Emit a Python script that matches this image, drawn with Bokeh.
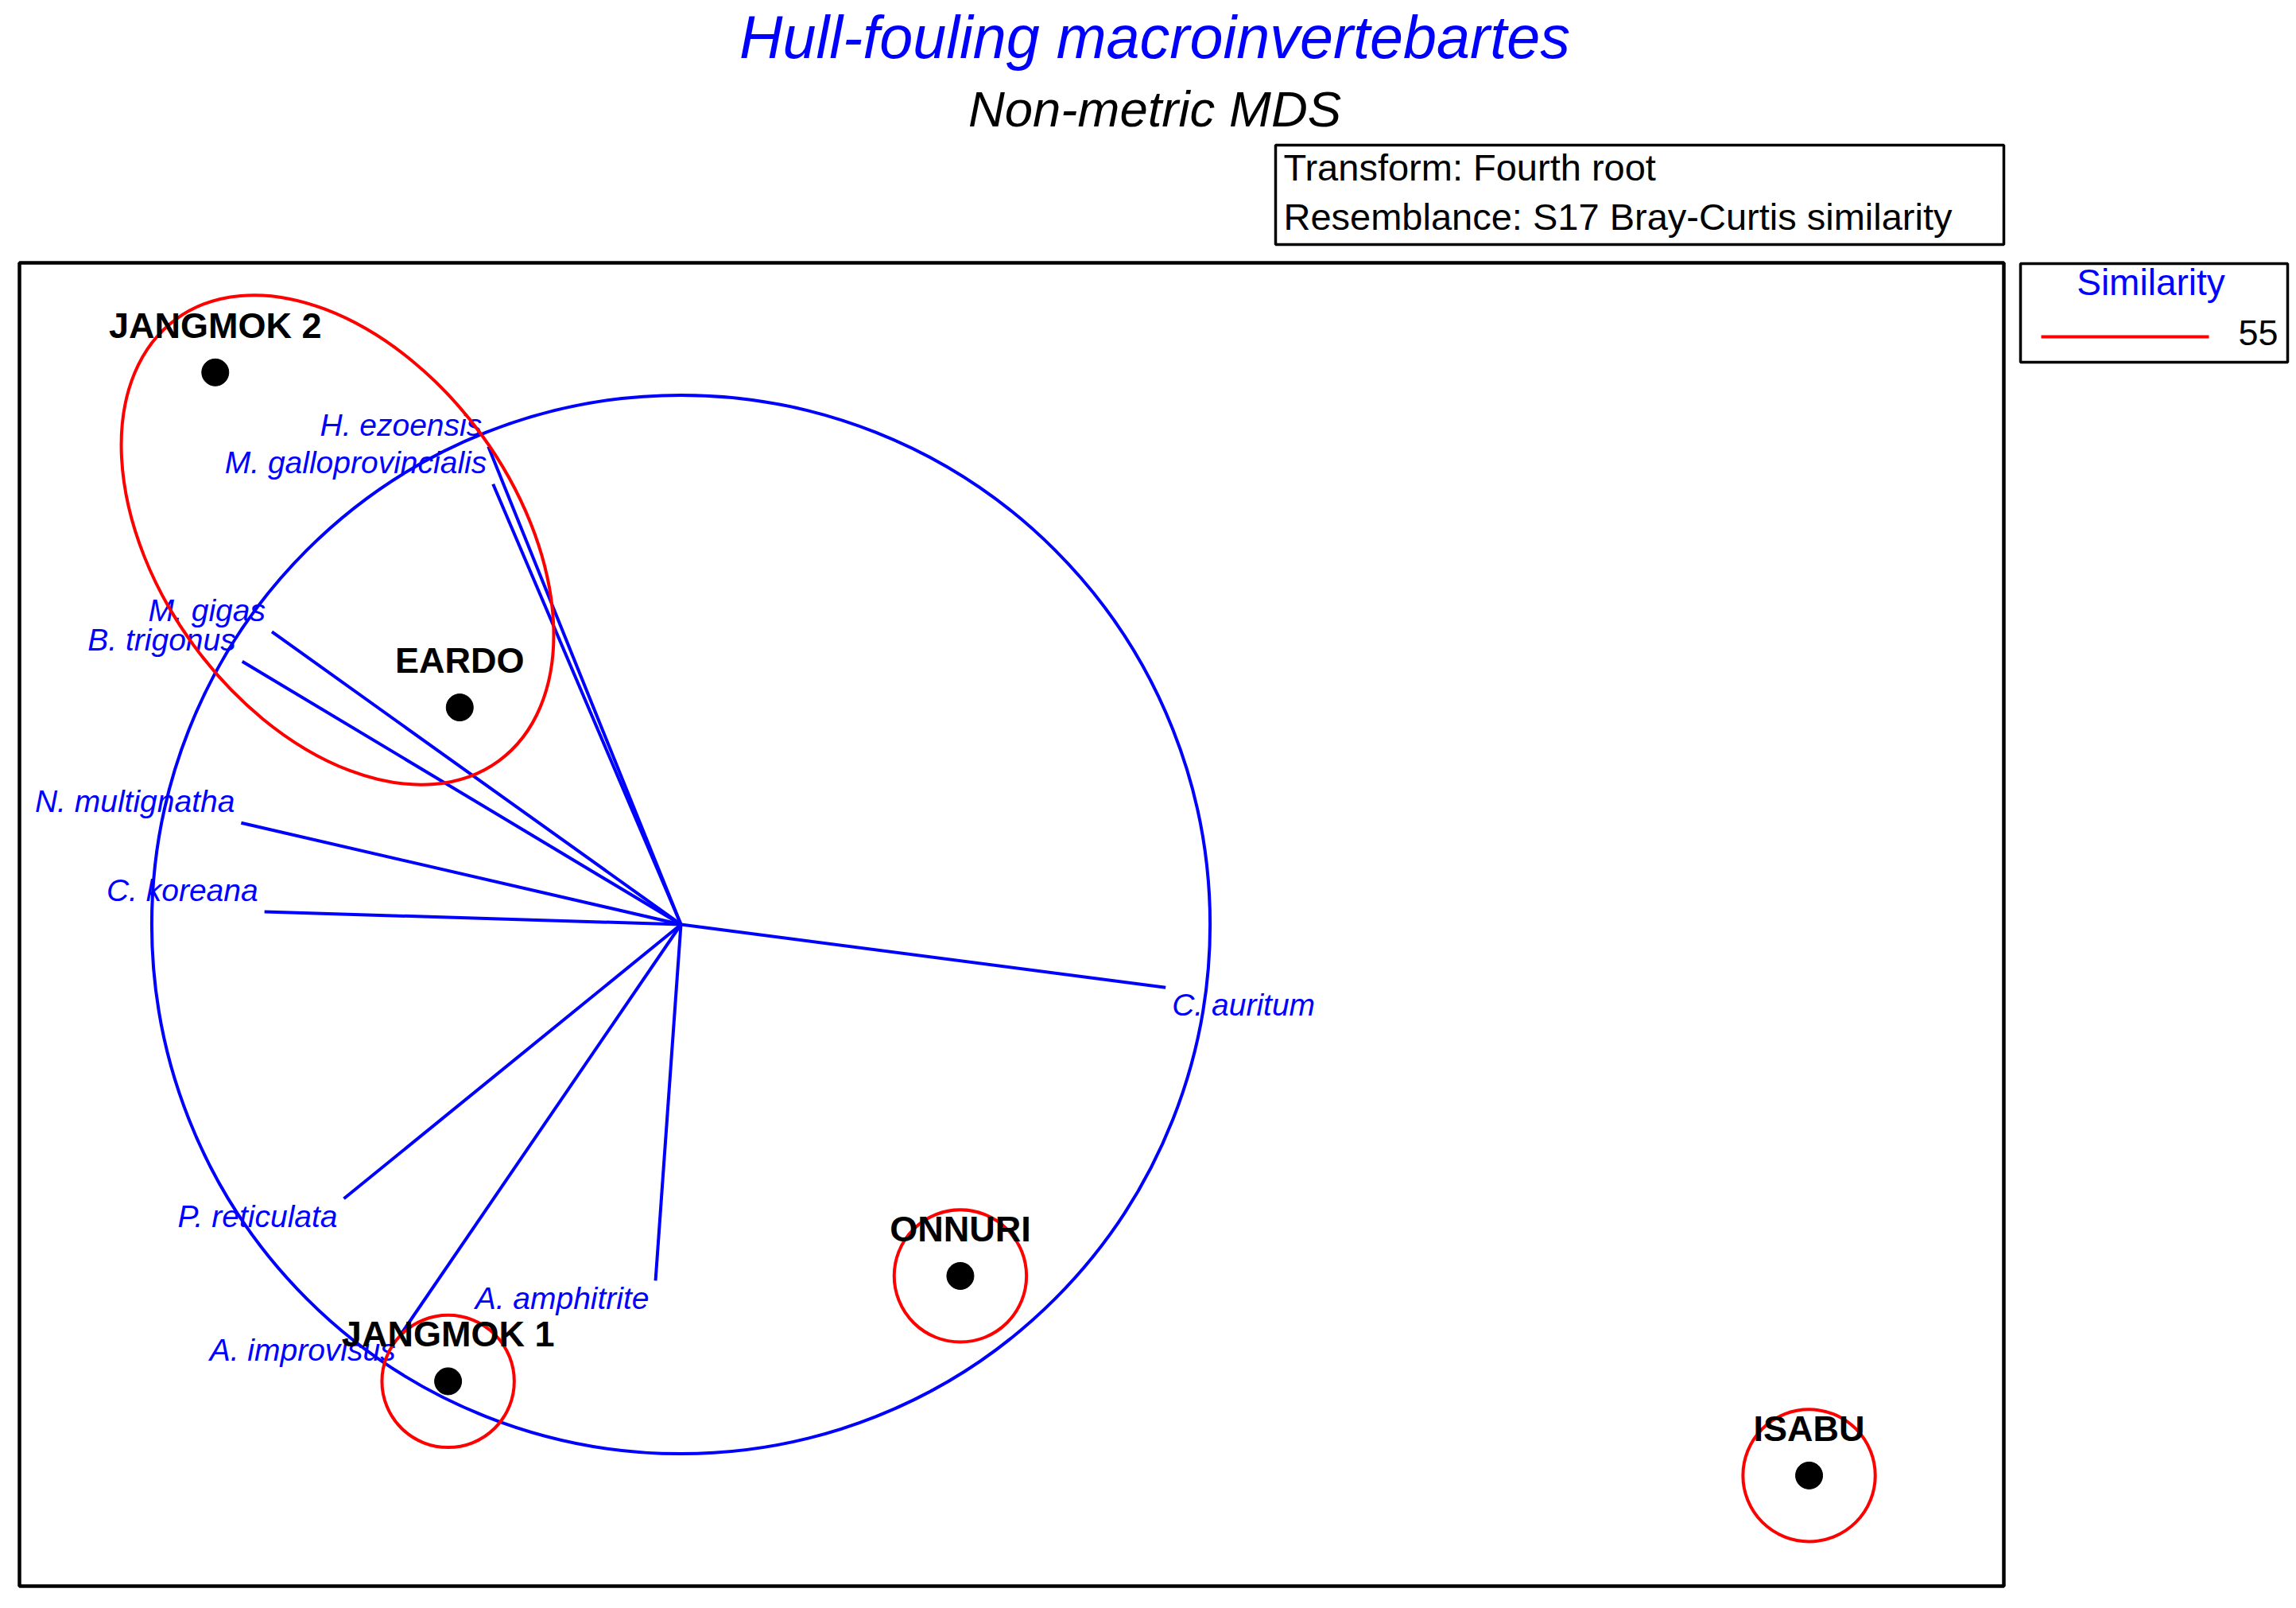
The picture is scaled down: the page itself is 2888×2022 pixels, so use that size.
import math
from bokeh.plotting import figure
from bokeh.models import Range1d
from bokeh.core.properties import value
from bokeh.embed import file_html
from bokeh.resources import INLINE

# ---------------- data ----------------
title_text = "Hull-fouling macroinvertebartes"
subtitle_text = "Non-metric MDS"
info_lines = ["Transform: Fourth root", "Resemblance: S17 Bray-Curtis similarity"]
legend_title = "Similarity"
legend_level = "55"

sample_names = ["JANGMOK 2", "EARDO", "JANGMOK 1", "ONNURI", "ISABU"]
sample_x = [-0.880, -0.418, -0.440, 0.528, 2.132]
sample_y = [1.043, 0.410, -0.863, -0.664, -1.041]

species_names = ["H. ezoensis", "M. galloprovincialis", "M. gigas", "B. trigonus",
                 "N. multignatha", "C. koreana", "C. auritum", "P. reticulata",
                 "A. amphitrite", "A. improvisus"]
species_x = [-0.364, -0.355, -0.773, -0.829, -0.831, -0.787, 0.916, -0.637, -0.048, -0.527]
species_y = [0.903, 0.832, 0.553, 0.497, 0.192, 0.024, -0.119, -0.518, -0.673, -0.771]

vector_circle_radius = 1.0
clusters_55 = [["JANGMOK 2", "EARDO"], ["JANGMOK 1"], ["ONNURI"], ["ISABU"]]
contour_radius = 0.125
contour_half_width = 0.337

x_limits = (-1.25, 2.5)
y_limits = (-1.25, 1.25)

# ---------------- layout helpers ----------------
W, H = 2884, 2018
S = 665.6           # pixels per MDS unit
OX, OY = 856, 1162  # page position of the origin
BASE_SHIFT = 0.38   # correction (in em) so that text sits on its alphabetic baseline


def dx(px):
    return (px - OX) / S


def dy(py):
    return (OY - py) / S


FONT = value("Liberation Sans")
BLUE = "#0000FF"
RED = "#FF0000"

p = figure(width=W, height=H, output_backend="svg", toolbar_location=None,
           x_range=Range1d(dx(0), dx(W)), y_range=Range1d(dy(H), dy(0)),
           x_axis_location=None, y_axis_location=None, min_border=0)
p.outline_line_color = None
p.background_fill_color = "white"
p.border_fill_color = "white"
p.xgrid.visible = False
p.ygrid.visible = False
p.grid.grid_line_color = None


def label(xs, ys, texts, size, align="left", color="black", style="normal",
          xoff=0, yoff=0):
    p.text(x=xs, y=ys, text=texts, text_align=align, text_baseline="alphabetic",
           x_offset=xoff, y_offset=yoff - BASE_SHIFT * size, text_font=FONT,
           text_font_style=style, text_font_size=f"{size}px", text_color=color)


# plot frame
p.quad(left=[x_limits[0]], right=[x_limits[1]], bottom=[y_limits[0]], top=[y_limits[1]],
       fill_color=None, line_color="black", line_width=4.5)

# titles
label([dx(1452)], [dy(75)], [title_text], 75.5, "center", BLUE, "italic")
label([dx(1452)], [dy(161)], [subtitle_text], 63.5, "center", "black", "italic")

# info box
p.quad(left=[dx(1604)], right=[dx(2520)], top=[dy(182)], bottom=[dy(307)],
       fill_color="white", line_color="black", line_width=3.5)
label([dx(1614), dx(1614)], [dy(228), dy(290)], info_lines, 47)

# legend box
p.quad(left=[dx(2541)], right=[dx(2877)], top=[dy(331)], bottom=[dy(455)],
       fill_color="white", line_color="black", line_width=3.5)
label([dx(2705)], [dy(372)], [legend_title], 46, "center", BLUE)
p.segment(x0=[dx(2567)], y0=[dy(423)], x1=[dx(2778)], y1=[dy(423)],
          line_color=RED, line_width=4)
label([dx(2865)], [dy(435)], [legend_level], 45, "right")

# vector circle and vectors
p.ellipse(x=[0], y=[0], width=[2 * vector_circle_radius], height=[2 * vector_circle_radius],
          fill_color=None, line_color=BLUE, line_width=4)
p.segment(x0=[0] * len(species_x), y0=[0] * len(species_y), x1=species_x, y1=species_y,
          line_color=BLUE, line_width=4)

for side in ("left", "right"):
    for up in (True, False):
        idx = [i for i in range(len(species_names))
               if ((species_x[i] < 0) == (side == "right")) and ((species_y[i] >= 0) == up)]
        if not idx:
            continue
        label([species_x[i] for i in idx], [species_y[i] for i in idx],
              [species_names[i] for i in idx], 39, side, BLUE, "italic",
              xoff=(-8 if side == "right" else 8), yoff=(-12 if up else 37))

# similarity contours
pos = {n: (x, y) for n, x, y in zip(sample_names, sample_x, sample_y)}
for group in clusters_55:
    if len(group) == 1:
        cx, cy = pos[group[0]]
        p.ellipse(x=[cx], y=[cy], width=[2 * contour_radius], height=[2 * contour_radius],
                  fill_color=None, line_color=RED, line_width=4)
    else:
        (x1, y1), (x2, y2) = pos[group[0]], pos[group[1]]
        d = math.hypot(x2 - x1, y2 - y1)
        ang = math.atan2(y2 - y1, x2 - x1)
        p.ellipse(x=[(x1 + x2) / 2], y=[(y1 + y2) / 2], width=[d + 2 * contour_radius],
                  height=[2 * contour_half_width], angle=[ang],
                  fill_color=None, line_color=RED, line_width=4)

# samples
p.scatter(x=sample_x, y=sample_y, size=34, marker="circle", fill_color="black",
          line_color="black")
label(sample_x, sample_y, sample_names, 45, "center", "black", "bold", yoff=-42)

open("out.html", "w").write(file_html(p, INLINE))
